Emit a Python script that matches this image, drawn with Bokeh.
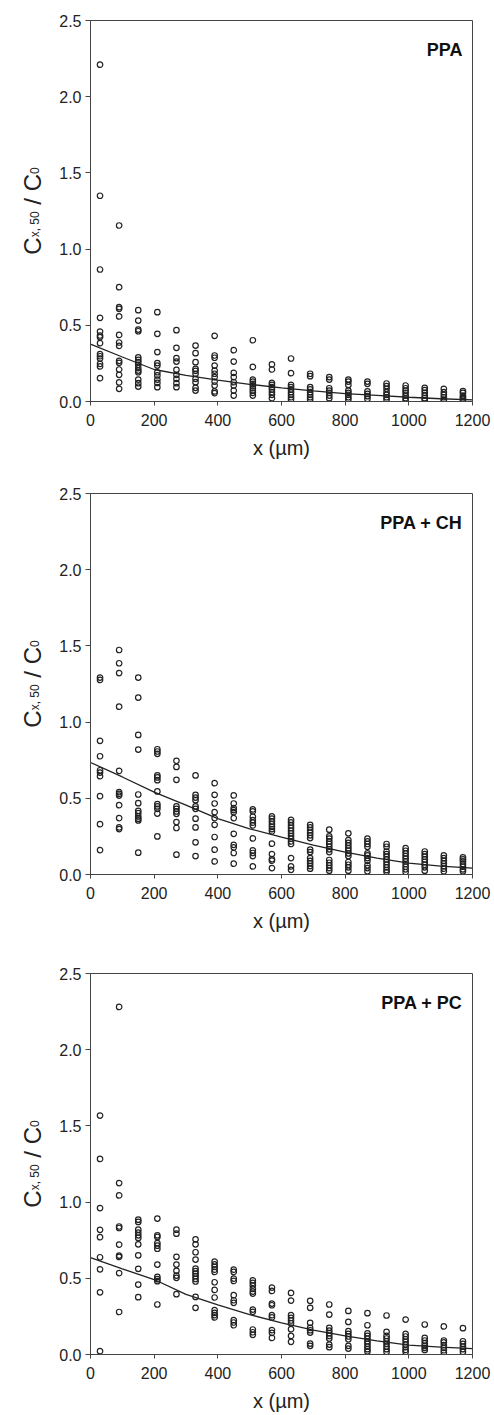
import math
from bokeh.plotting import figure
from bokeh.models import Range1d, Label, FixedTicker, PrintfTickFormatter
from bokeh.layouts import column, row
from bokeh.core.properties import value
from bokeh.embed import file_html
from bokeh.resources import INLINE

# ---------------- data ----------------
X_POS = [30, 90, 150, 210, 270, 330, 390, 450, 510, 570,
         630, 690, 750, 810, 870, 930, 990, 1050, 1110, 1170]

PPA_VALUES = [
    [2.21, 1.35, 0.866, 0.549, 0.459, 0.433, 0.422, 0.383, 0.311, 0.297, 0.282, 0.247, 0.230, 0.153],
    [1.155, 0.750, 0.619, 0.608, 0.558, 0.437, 0.387, 0.365, 0.267, 0.254, 0.210, 0.175, 0.125, 0.083],
    [0.599, 0.531, 0.472, 0.461, 0.289, 0.273, 0.258, 0.241, 0.219, 0.203, 0.192, 0.144, 0.120, 0.098],
    [0.586, 0.444, 0.324, 0.252, 0.236, 0.192, 0.171, 0.144, 0.122, 0.094],
    [0.468, 0.352, 0.284, 0.262, 0.208, 0.175, 0.149, 0.120, 0.094],
    [0.367, 0.317, 0.258, 0.214, 0.201, 0.182, 0.149, 0.127, 0.090, 0.072],
    [0.431, 0.302, 0.287, 0.236, 0.203, 0.182, 0.160, 0.131, 0.105, 0.066, 0.055],
    [0.337, 0.262, 0.188, 0.160, 0.127, 0.105, 0.072, 0.039],
    [0.402, 0.227, 0.144, 0.131, 0.116, 0.101, 0.087, 0.072, 0.057, 0.039],
    [0.243, 0.210, 0.122, 0.109, 0.094, 0.079, 0.061, 0.044, 0.022],
    [0.282, 0.186, 0.109, 0.094, 0.079, 0.061, 0.044, 0.028, 0.013],
    [0.182, 0.166, 0.094, 0.079, 0.061, 0.044, 0.028, 0.013],
    [0.160, 0.144, 0.087, 0.072, 0.057, 0.039, 0.022],
    [0.144, 0.131, 0.109, 0.072, 0.057, 0.044, 0.028, 0.013],
    [0.131, 0.116, 0.066, 0.050, 0.035, 0.017],
    [0.118, 0.101, 0.083, 0.061, 0.044, 0.028, 0.013],
    [0.105, 0.087, 0.072, 0.057, 0.039, 0.022, 0.007],
    [0.090, 0.074, 0.057, 0.039, 0.022, 0.007],
    [0.083, 0.061, 0.044, 0.028, 0.013, 0.002],
    [0.068, 0.057, 0.039, 0.028, 0.017, 0.004],
]

CH_VALUES = [
    [1.292, 1.277, 0.877, 0.776, 0.684, 0.669, 0.645, 0.514, 0.330, 0.160],
    [1.473, 1.386, 1.322, 1.101, 0.680, 0.540, 0.529, 0.518, 0.455, 0.370, 0.309, 0.298],
    [1.292, 1.161, 0.916, 0.820, 0.525, 0.468, 0.418, 0.403, 0.381, 0.366, 0.355, 0.143],
    [0.822, 0.807, 0.792, 0.650, 0.637, 0.619, 0.545, 0.462, 0.447, 0.431, 0.400, 0.250],
    [0.746, 0.706, 0.621, 0.447, 0.431, 0.414, 0.398, 0.344, 0.305, 0.130],
    [0.650, 0.523, 0.505, 0.488, 0.447, 0.431, 0.366, 0.309, 0.211, 0.121],
    [0.599, 0.523, 0.466, 0.409, 0.370, 0.326, 0.246, 0.163, 0.086],
    [0.519, 0.466, 0.436, 0.423, 0.409, 0.370, 0.267, 0.195, 0.178, 0.141, 0.071],
    [0.427, 0.414, 0.379, 0.357, 0.340, 0.322, 0.237, 0.158, 0.141, 0.121, 0.053],
    [0.381, 0.366, 0.348, 0.330, 0.313, 0.298, 0.283, 0.202, 0.134, 0.101, 0.091, 0.042],
    [0.359, 0.342, 0.322, 0.305, 0.287, 0.270, 0.252, 0.235, 0.217, 0.200, 0.108, 0.053, 0.031],
    [0.326, 0.309, 0.291, 0.274, 0.257, 0.239, 0.163, 0.147, 0.108, 0.090, 0.073, 0.055, 0.038],
    [0.294, 0.250, 0.235, 0.217, 0.200, 0.182, 0.165, 0.147, 0.095, 0.077, 0.060, 0.042, 0.025],
    [0.270, 0.226, 0.208, 0.191, 0.173, 0.156, 0.138, 0.121, 0.082, 0.064, 0.047, 0.025],
    [0.235, 0.217, 0.200, 0.182, 0.138, 0.125, 0.108, 0.090, 0.060, 0.042, 0.021],
    [0.200, 0.182, 0.151, 0.134, 0.117, 0.099, 0.082, 0.064, 0.047, 0.029, 0.016],
    [0.173, 0.156, 0.138, 0.121, 0.104, 0.086, 0.069, 0.051, 0.034, 0.016],
    [0.151, 0.134, 0.117, 0.099, 0.082, 0.064, 0.047, 0.025],
    [0.125, 0.108, 0.090, 0.073, 0.055, 0.038, 0.021],
    [0.112, 0.099, 0.086, 0.069, 0.051, 0.034, 0.021],
]

PC_VALUES = [
    [1.568, 1.283, 0.961, 0.818, 0.770, 0.638, 0.559, 0.408, 0.022],
    [2.281, 1.125, 1.044, 0.840, 0.830, 0.721, 0.649, 0.640, 0.534, 0.279],
    [0.885, 0.870, 0.819, 0.800, 0.782, 0.765, 0.723, 0.651, 0.562, 0.459, 0.376],
    [0.892, 0.782, 0.771, 0.731, 0.714, 0.694, 0.590, 0.509, 0.494, 0.481, 0.328],
    [0.819, 0.793, 0.641, 0.590, 0.549, 0.518, 0.503, 0.396],
    [0.756, 0.723, 0.671, 0.623, 0.564, 0.547, 0.531, 0.514, 0.496, 0.479, 0.378, 0.306],
    [0.610, 0.592, 0.575, 0.557, 0.542, 0.474, 0.424, 0.374, 0.291, 0.273, 0.258, 0.243],
    [0.557, 0.542, 0.498, 0.483, 0.389, 0.356, 0.339, 0.225, 0.210, 0.192],
    [0.487, 0.470, 0.453, 0.431, 0.413, 0.400, 0.295, 0.280, 0.164, 0.146, 0.129],
    [0.439, 0.417, 0.334, 0.323, 0.258, 0.243, 0.160, 0.142, 0.109],
    [0.404, 0.354, 0.258, 0.240, 0.223, 0.205, 0.166, 0.122, 0.083],
    [0.352, 0.306, 0.208, 0.175, 0.159, 0.144, 0.072, 0.057],
    [0.328, 0.262, 0.175, 0.157, 0.140, 0.122, 0.105, 0.065, 0.048],
    [0.286, 0.214, 0.153, 0.135, 0.118, 0.100, 0.057, 0.039],
    [0.271, 0.192, 0.138, 0.122, 0.105, 0.087, 0.070, 0.052, 0.035, 0.020],
    [0.256, 0.149, 0.122, 0.105, 0.087, 0.070, 0.052, 0.035, 0.017],
    [0.229, 0.135, 0.118, 0.100, 0.083, 0.065, 0.048, 0.030, 0.017],
    [0.197, 0.109, 0.092, 0.074, 0.057, 0.044, 0.030],
    [0.184, 0.092, 0.079, 0.061, 0.044, 0.028, 0.013],
    [0.173, 0.087, 0.070, 0.052, 0.035, 0.017],
]

FIT_X = [0, 100, 200, 300, 400, 500, 600, 700, 800, 900, 1000, 1100, 1200]
PPA_FIT = [0.376, 0.292, 0.210, 0.172, 0.140, 0.113, 0.090, 0.070, 0.052, 0.040, 0.028, 0.018, 0.011]
CH_FIT = [0.735, 0.640, 0.541, 0.455, 0.366, 0.300, 0.245, 0.192, 0.147, 0.108, 0.075, 0.055, 0.042]
PC_FIT = [0.636, 0.562, 0.492, 0.395, 0.325, 0.262, 0.207, 0.160, 0.122, 0.090, 0.062, 0.048, 0.039]

TITLES = ["PPA", "PPA + CH", "PPA + PC"]
X_TICKS = [0, 200, 400, 600, 800, 1000, 1200]
Y_TICKS = [0.0, 0.5, 1.0, 1.5, 2.0, 2.5]
X_LABEL = "x (µm)"
# y label  C_{x, 50} / C_0  written as pieces (text, is_subscript, gap before in em)
Y_LABEL_PARTS = ["C", "x,", "50", "/", "C", "0"]
Y_LABEL_SUB = [False, True, True, False, False, True]
Y_LABEL_GAP = [0.0, 0.0, 0.278, 0.278, 0.278, 0.0]

# ---------------- styling ----------------
FONT = "Liberation Sans"
INK = "#222222"
FRAME_W = 382
FRAME_H = 381
LAB_W = 56
MAIN_PX, SUB_PX = 24, 12
ADV = {"C": 0.722, "x,": 0.778, "50": 1.112, "/": 0.278, "0": 0.556}


def make_ylabel(top, bottom):
    f = figure(frame_width=LAB_W, frame_height=FRAME_H,
               x_range=Range1d(0, LAB_W), y_range=Range1d(0, FRAME_H),
               x_axis_type=None, y_axis_type=None,
               output_backend="svg", toolbar_location=None,
               min_border_left=0, min_border_right=0,
               min_border_top=top, min_border_bottom=bottom)
    f.grid.visible = False
    f.outline_line_color = None
    f.background_fill_color = "white"
    f.border_fill_color = "white"
    sizes = [SUB_PX if s else MAIN_PX for s in Y_LABEL_SUB]
    gaps = [g * sz for g, sz in zip(Y_LABEL_GAP, sizes)]
    widths = [ADV[t] * sz for t, sz in zip(Y_LABEL_PARTS, sizes)]
    total = sum(gaps) + sum(widths)
    pos = (FRAME_H - total) / 2.0
    base_x = 32.0
    for t, s, sz, g, w in zip(Y_LABEL_PARTS, Y_LABEL_SUB, sizes, gaps, widths):
        pos += g
        f.text(x=[base_x + (2.0 if s else 0.0)], y=[pos], text=[t], angle=math.pi / 2,
               text_align="left", text_baseline="alphabetic",
               text_font=value(FONT), text_font_size=f"{sz}px",
               text_color=INK)
        pos += w
    return f


def make_panel(values, fit, title, top, bottom):
    p = figure(frame_width=FRAME_W, frame_height=FRAME_H,
               x_range=Range1d(0, 1200), y_range=Range1d(0, 2.5),
               output_backend="svg", toolbar_location=None,
               min_border_left=89 - LAB_W, min_border_right=22,
               min_border_top=top, min_border_bottom=bottom)
    p.grid.visible = False
    p.background_fill_color = "white"
    p.border_fill_color = "white"
    p.outline_line_color = "#444444"
    p.outline_line_width = 1

    xs, ys = [], []
    for xv, col in zip(X_POS, values):
        for yv in col:
            xs.append(xv)
            ys.append(yv)
    p.line(FIT_X, fit, line_color=INK, line_width=1.3)
    p.scatter(xs, ys, marker="circle", size=5.5, fill_color=None,
              line_color="#222222", line_width=1.2)

    for ax in (p.xaxis[0], p.yaxis[0]):
        ax.axis_line_color = "#444444"
        ax.major_tick_line_color = "#444444"
        ax.minor_tick_line_color = None
        ax.major_tick_in = 0
        ax.major_label_text_font = FONT
        ax.major_label_text_font_size = "16px"
        ax.major_label_text_color = INK

    p.xaxis.ticker = FixedTicker(ticks=X_TICKS)
    p.yaxis.ticker = FixedTicker(ticks=Y_TICKS)
    p.yaxis.formatter = PrintfTickFormatter(format="%.1f")
    p.xaxis.major_tick_out = 4
    p.yaxis.major_tick_out = 5
    p.xaxis.major_label_standoff = 8
    p.yaxis.major_label_standoff = 4
    p.xaxis.axis_label = X_LABEL
    p.xaxis.axis_label_text_font = FONT
    p.xaxis.axis_label_text_font_style = "normal"
    p.xaxis.axis_label_text_font_size = "20px"
    p.xaxis.axis_label_text_color = INK
    p.xaxis.axis_label_standoff = 8

    p.add_layout(Label(x=FRAME_W - 10, y=FRAME_H - 29.5, x_units="screen", y_units="screen",
                       text=title, text_align="right", text_baseline="alphabetic",
                       text_font=FONT, text_font_style="bold", text_font_size="18px",
                       text_color="#111111"))
    return p


BORDERS = [(20, 77), (15, 84), (15, 61)]
rows = []
for vals, fit, title, (t, b) in zip([PPA_VALUES, CH_VALUES, PC_VALUES],
                                    [PPA_FIT, CH_FIT, PC_FIT], TITLES, BORDERS):
    rows.append(row(make_ylabel(t, b), make_panel(vals, fit, title, t, b)))

layout = column(*rows)
open("out.html", "w").write(file_html(layout, INLINE))
